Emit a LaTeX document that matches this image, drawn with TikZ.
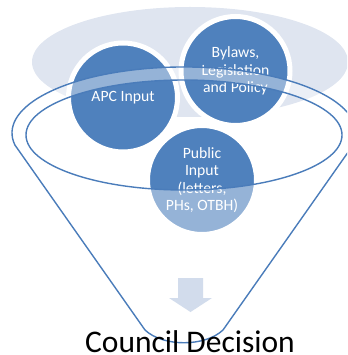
\documentclass[tikz,border=0pt]{standalone}
\usepackage{fontspec}
\newfontfamily\carlito{Carlito}
\definecolor{circblue}{RGB}{79,129,189}
\definecolor{funline}{RGB}{74,124,186}
\definecolor{bgell}{RGB}{223,229,240}
\definecolor{arrowc}{RGB}{210,220,236}
\tikzset{
  bubble/.style={circle, draw=white, line width=5pt, fill=circblue, minimum size=109pt, inner sep=0pt,
    text=white, align=center, font=\carlito\fontsize{15.7}{17.5}\selectfont},
  funnelfill/.style={fill=white, fill opacity=0.4, even odd rule},
  funnelline/.style={draw=funline, line width=1.4pt, line join=round},
  bigtext/.style={font=\carlito\fontsize{31.5}{36}\selectfont, text=black, inner sep=0pt, anchor=base}
}
\begin{document}
\begin{tikzpicture}[x=1pt,y=-1pt]
\useasboundingbox (0,0) rectangle (347,355);
\clip (0,0) rectangle (347,355);
% background ellipse
\fill[bgell] (190,62) ellipse[x radius=158, y radius=55];
% circles
\node[bubble] (apc) at (123,97.5) {APC Input};
\node[bubble] (bylaws) at (235.5,71) {Bylaws,\\Legislation\\and Policy};
\node[bubble] (public) at (202,180) {Public\\Input\\(letters,\\PHs, OTBH)};
% funnel translucent body
\path[funnelfill] (14.9,145) arc[start angle=169.5, end angle=370.5, x radius=172, y radius=66]
  -- (223,330) .. controls (205,347) and (163,347) .. (145,330) -- cycle
  (184,135) ellipse[x radius=158, y radius=55];
% funnel outline
\draw[funnelline] (14.9,145) arc[start angle=169.5, end angle=370.5, x radius=172, y radius=66]
  -- (223,330) .. controls (205,347) and (163,347) .. (145,330) -- cycle;
\draw[funnelline] (184,135) ellipse[x radius=158, y radius=55];
% down arrow
\fill[arrowc] (178,278) -- (203,278) -- (203,298) -- (212,298) -- (190.5,312) -- (169,298) -- (178,298) -- cycle;
% result
\node[bigtext] (decision) at (190,352) {Council Decision};
\end{tikzpicture}
\end{document}
